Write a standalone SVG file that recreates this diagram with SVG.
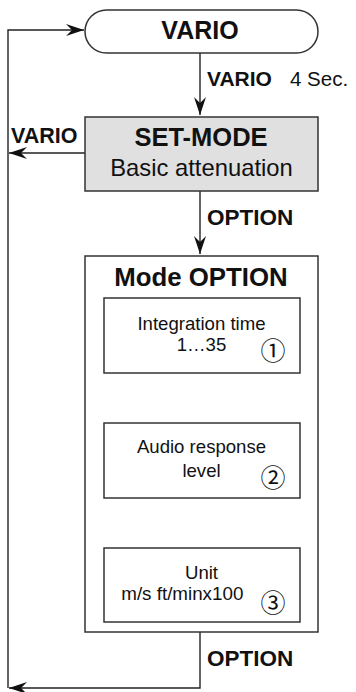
<svg xmlns="http://www.w3.org/2000/svg" width="356" height="692" viewBox="0 0 356 692">
<defs>
<marker id="ah" markerUnits="userSpaceOnUse" markerWidth="20" markerHeight="14" viewBox="-19 -7 20 14" refX="0" refY="0" orient="auto">
<path d="M0,0 L-18,-6 L-12,0 L-18,6 Z" fill="#111"/>
</marker>
<style>
.ln{fill:none;stroke:#222;stroke-width:1.4}
.bx{fill:#fff;stroke:#333;stroke-width:1.5}
.b{font-family:"Liberation Sans",Arial,sans-serif;font-weight:bold;fill:#111}
.r{font-family:"Liberation Sans",Arial,sans-serif;fill:#111}
.c{font-family:"Noto Sans CJK JP","DejaVu Sans",sans-serif;fill:#111}
</style>
</defs>
<rect width="356" height="692" fill="#fff"/>
<g id="connectors">
<path class="ln" d="M8,688 L8,30 L84,30" marker-end="url(#ah)"/>
<path class="ln" d="M200,53 L200,115" marker-end="url(#ah)"/>
<path class="ln" d="M85,153 L9,153" marker-end="url(#ah)"/>
<path class="ln" d="M200,191 L200,254" marker-end="url(#ah)"/>
<path class="ln" d="M200,373 L200,422" marker-end="url(#ah)"/>
<path class="ln" d="M200,498 L200,547" marker-end="url(#ah)"/>
<path class="ln" d="M200,632 L200,688 L9,688" marker-end="url(#ah)"/>
<text class="b" x="207" y="86" font-size="21">VARIO</text>
<text class="r" x="290" y="86" font-size="20.5">4 Sec.</text>
<text class="b" x="11" y="143" font-size="21.5">VARIO</text>
<text class="b" x="207" y="225" font-size="22.5">OPTION</text>
<text class="b" x="207" y="666" font-size="22.5">OPTION</text>
</g>
<g id="vario">
<rect class="bx" x="85" y="10" width="233" height="43" rx="21.5"/>
<text class="b" x="200" y="39" font-size="25" text-anchor="middle">VARIO</text>
</g>
<g id="setmode">
<rect x="85" y="117" width="233" height="74" fill="#e0e0e0" stroke="#333" stroke-width="1.5"/>
<text class="b" x="201" y="146" font-size="25.5" text-anchor="middle">SET-MODE</text>
<text class="r" x="201.5" y="176" font-size="23.8" text-anchor="middle">Basic attenuation</text>
</g>
<g id="modeoption">
<rect class="bx" x="85" y="256" width="233" height="376"/>
<text class="b" x="201" y="286" font-size="25.8" text-anchor="middle">Mode OPTION</text>
</g>
<g id="integration">
<rect class="bx" x="104" y="298" width="196" height="75"/>
<text class="r" x="201.5" y="330" font-size="18.6" text-anchor="middle">Integration time</text>
<text class="r" x="201.5" y="351" font-size="18.6" text-anchor="middle">1…35</text>
<text class="c" x="273" y="360" font-size="25" text-anchor="middle">①</text>
</g>
<g id="audio">
<rect class="bx" x="104" y="423" width="196" height="75"/>
<text class="r" x="201.5" y="453" font-size="18.6" text-anchor="middle">Audio response</text>
<text class="r" x="201.5" y="477" font-size="18.6" text-anchor="middle">level</text>
<text class="c" x="273" y="487" font-size="25" text-anchor="middle">②</text>
</g>
<g id="unit">
<rect class="bx" x="104" y="548" width="196" height="74"/>
<text class="r" x="201.5" y="579" font-size="18.6" text-anchor="middle">Unit</text>
<text class="r" x="182.3" y="600" font-size="18.8" text-anchor="middle">m/s ft/minx100</text>
<text class="c" x="273" y="612" font-size="25" text-anchor="middle">③</text>
</g>
</svg>
